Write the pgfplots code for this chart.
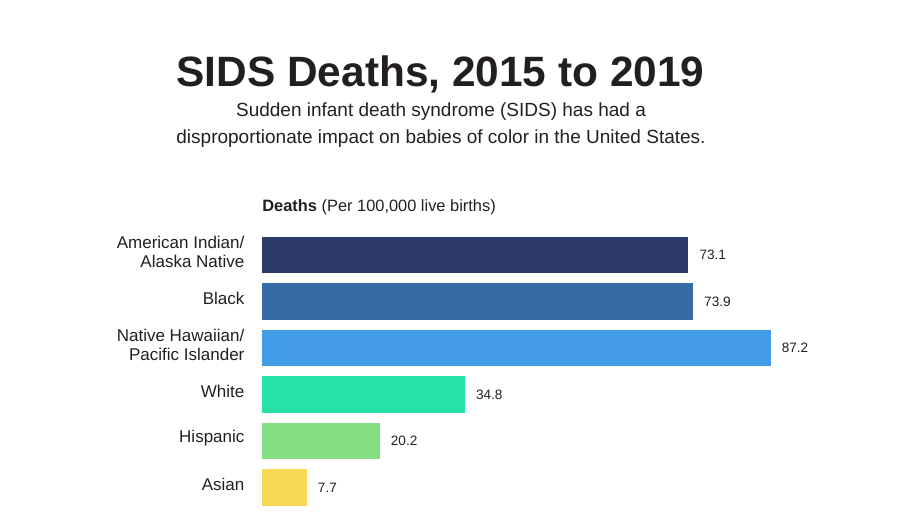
\documentclass[border=0pt]{standalone}
\usepackage{pgfplots}
\pgfplotsset{compat=1.18}
\usepackage{fontspec}
\setmainfont{Liberation Sans}
\definecolor{txt}{HTML}{231F20}
\definecolor{c1}{HTML}{2B3A67}
\definecolor{c2}{HTML}{376BA6}
\definecolor{c3}{HTML}{429CE8}
\definecolor{c4}{HTML}{27E2A8}
\definecolor{c5}{HTML}{86DE82}
\definecolor{c6}{HTML}{F9D857}
\begin{document}
\begin{tikzpicture}
\useasboundingbox (0,0) rectangle (450pt,-264.5pt);
\node[text=txt,font=\fontsize{21.2}{26}\selectfont\bfseries] at (220.25pt,-37pt) {SIDS Deaths, 2015 to 2019};
\node[text=txt,font=\fontsize{9.5}{13.5}\selectfont,align=center] at (220.5pt,-62.5pt) {Sudden infant death syndrome (SIDS) has had a\\disproportionate impact on babies of color in the United States.};
\node[text=txt,font=\fontsize{8.2}{10}\selectfont,anchor=west,inner sep=0pt] at (131pt,-103.5pt) {\textbf{Deaths} (Per 100,000 live births)};
\begin{axis}[
  at={(131pt,-115.875pt)}, anchor=north west,
  scale only axis, width=291.7pt, height=139.5pt,
  xbar, bar width=18.35pt,
  xmin=0, xmax=100, ymin=-0.5, ymax=5.5, y dir=reverse,
  axis line style={draw=none}, tick style={draw=none},
  xtick=\empty,
  ytick={0,1,2,3,4,5},
  yticklabels={{American Indian/\\Alaska Native},Black,{Native Hawaiian/\\Pacific Islander},White,Hispanic,Asian},
  yticklabel style={align=right,text=txt,font=\fontsize{8.5}{9.8}\selectfont,xshift=-1pt,yshift=1.5pt},
  /pgf/number format/assume math mode=true,
  nodes near coords,
  nodes near coords style={text=txt,font=\fontsize{6.8}{8}\selectfont,anchor=west,xshift=2pt,/pgf/number format/fixed,/pgf/number format/precision=1,/pgf/number format/fixed zerofill,/pgf/number format/assume math mode=true},
  every axis plot/.append style={bar shift=0pt,draw=none},
]
\addplot[fill=c1] coordinates {(73.1,0)};
\addplot[fill=c2] coordinates {(73.9,1)};
\addplot[fill=c3] coordinates {(87.2,2)};
\addplot[fill=c4] coordinates {(34.8,3)};
\addplot[fill=c5] coordinates {(20.2,4)};
\addplot[fill=c6] coordinates {(7.7,5)};
\end{axis}
\end{tikzpicture}
\end{document}
